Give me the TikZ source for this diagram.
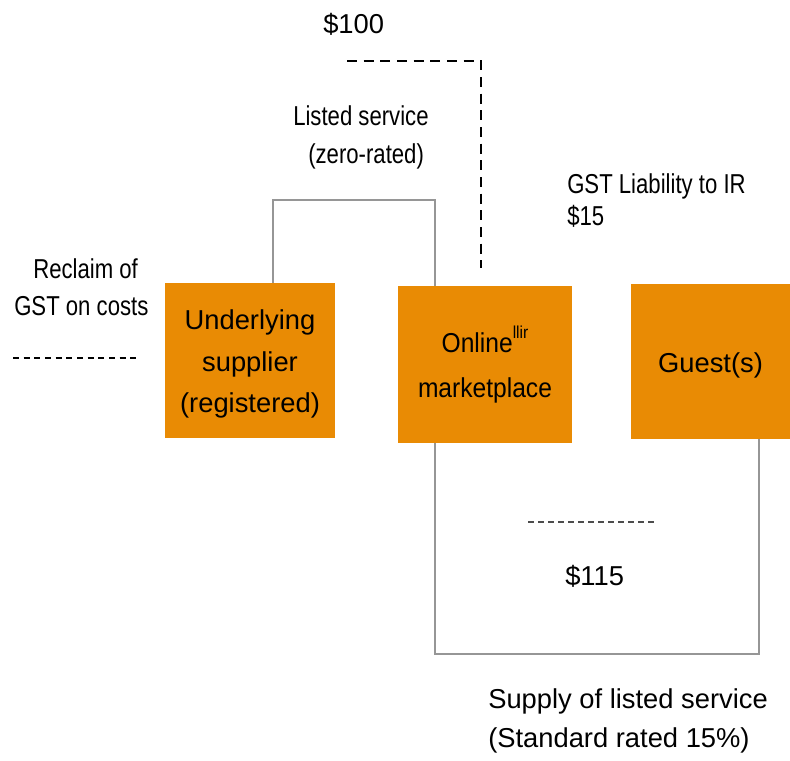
\documentclass[tikz,border=0pt]{standalone}
\usepackage{fontspec}
\setmainfont{Liberation Sans}
\newfontfamily\condfont[FakeStretch=0.81]{Liberation Sans}
\newfontfamily\midfont[FakeStretch=0.9]{Liberation Sans}
\definecolor{boxorange}{RGB}{233,139,4}
\definecolor{linegrey}{RGB}{150,150,150}
\begin{document}
\begin{tikzpicture}[x=0.75pt,y=-0.75pt,
  box/.style={fill=boxorange, draw=none, inner sep=0, align=center,
    font=\fontsize{20.5}{31}\selectfont},
  lbl/.style={inner sep=0, anchor=base west, font=\fontsize{20.5}{24}\selectfont},
  clbl/.style={inner sep=0, anchor=base west, font=\condfont\fontsize{20.5}{24}\selectfont},
  gline/.style={draw=linegrey, line width=1.6pt},
  bigdash/.style={draw=black, line width=2.2pt, dash pattern=on 7.5pt off 5pt},
  smalldash/.style={draw=black, line width=0.9pt, dash pattern=on 4.5pt off 3.5pt},
  greydash/.style={draw=black!70, line width=0.9pt, dash pattern=on 4.5pt off 3pt}]
\useasboundingbox (0,0) rectangle (790,761);
% boxes
\node[box, minimum width=127.5pt, minimum height=116.25pt] (sup) at (250,360.5)
  {\rule{0pt}{20pt}Underlying\\supplier\\(registered)};
\node[box, minimum width=130.5pt, minimum height=117.75pt,
  font=\midfont\fontsize{20.5}{34}\selectfont] (on) at (485,364.5)
  {Online\raisebox{0.5em}{\fontsize{13}{13}\selectfont llir}\\marketplace};
\node[box, minimum width=119.25pt, minimum height=116.25pt] (gst) at (710.5,361.5)
  {\rule{0pt}{21pt}Guest(s)};
% grey connectors
\draw[gline] ([xshift=81pt]sup.north west) -- ++(0,-83) -| ([xshift=27.75pt]on.north west);
\draw[gline] ([xshift=27.75pt]on.south west) -- ++(0,211) -| ([xshift=-23.25pt]gst.south east);
% dashed lines
\coordinate (d1) at (347,61);
\coordinate (d2) at (481,268);
\draw[bigdash] (d1) -| (d2);
\coordinate (l1) at (13,358);
\coordinate (l2) at (140,358);
\draw[smalldash] (l1) -- (l2);
\coordinate (g1) at (528,522);
\coordinate (g2) at (655,522);
\draw[greydash] (g1) -- (g2);
% labels
\node[lbl] (t100) at (323,33) {\$100};
\node[clbl] (tls) at (293,125) {Listed service};
\node[clbl] (tzr) at (308,163) {(zero-rated)};
\node[clbl] (tgl) at (567,193) {GST Liability to IR};
\node[clbl] (t15) at (567,225) {\$15};
\node[clbl] (trc) at (33,278) {Reclaim of};
\node[clbl] (tgc) at (14,315) {GST on costs};
\node[lbl] (t115) at (565,585) {\$115};
\node[lbl] (tsu) at (488,708) {Supply of listed service};
\node[lbl] (tsr) at (488,747) {(Standard rated 15\%)};
\end{tikzpicture}
\end{document}
